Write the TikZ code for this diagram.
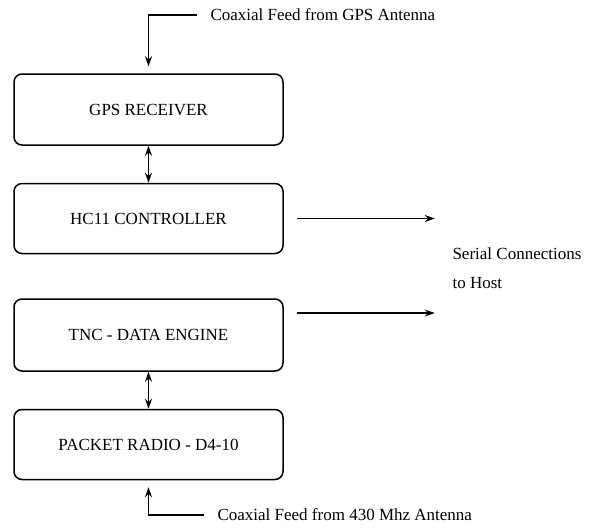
\documentclass[tikz,border=0pt]{standalone}
\usepackage{fontspec}
\setmainfont{Liberation Serif}
\usetikzlibrary{positioning}
\usetikzlibrary{arrows.meta}

\begin{document}
\begin{tikzpicture}[x=1pt,y=-1pt,font=\fontsize{17}{20}\selectfont,>={Stealth[length=10pt,width=7pt]}]
\tikzset{block/.style={rectangle,minimum width=269pt,minimum height=71pt, rounded corners=8pt, draw, line width=1.5pt, inner sep=0pt}}
\tikzset{link/.style={line width=1.3pt}}
\useasboundingbox (0,0) rectangle (593,527);
\node[block] (gps) at (148.5,109.5) {GPS RECEIVER};
\node[block, below = 37pt of gps, minimum height=70pt] (hc11) {HC11 CONTROLLER};
\node[block, below = 44pt of hc11, minimum height=72pt] (tnc) {TNC - DATA ENGINE};
\node[block, below = 37pt of tnc, minimum height=70pt] (radio) {PACKET RADIO - D4-10};
\node[anchor=west] (gpsfeed) at (207,15) {Coaxial Feed from GPS Antenna};
\node[anchor=west] (radiofeed) at (214,515) {Coaxial Feed from 430 Mhz Antenna};
\node[anchor=west, align=left, font=\fontsize{17}{29}\selectfont] (host) at (449,268) {Serial Connections\\to Host};
\coordinate (host1) at ([xshift=151pt]hc11.east);
\coordinate (host2) at ([xshift=151pt,yshift=22pt]tnc.east);
\draw[link,->] ([xshift=-10pt]gpsfeed.west) -| ([yshift=7pt]gps.north);
\draw[link,<->] (gps) -- (hc11);
\draw[link,<->] (tnc) -- (radio);
\draw[link,->] ([xshift=13pt]hc11.east) -- (host1);
\draw[link,->] ([xshift=13pt,yshift=22pt]tnc.east) -- (host2);
\draw[link,->] ([xshift=-10pt]radiofeed.west) -| ([yshift=-7pt]radio.south);
\end{tikzpicture}
\end{document}
